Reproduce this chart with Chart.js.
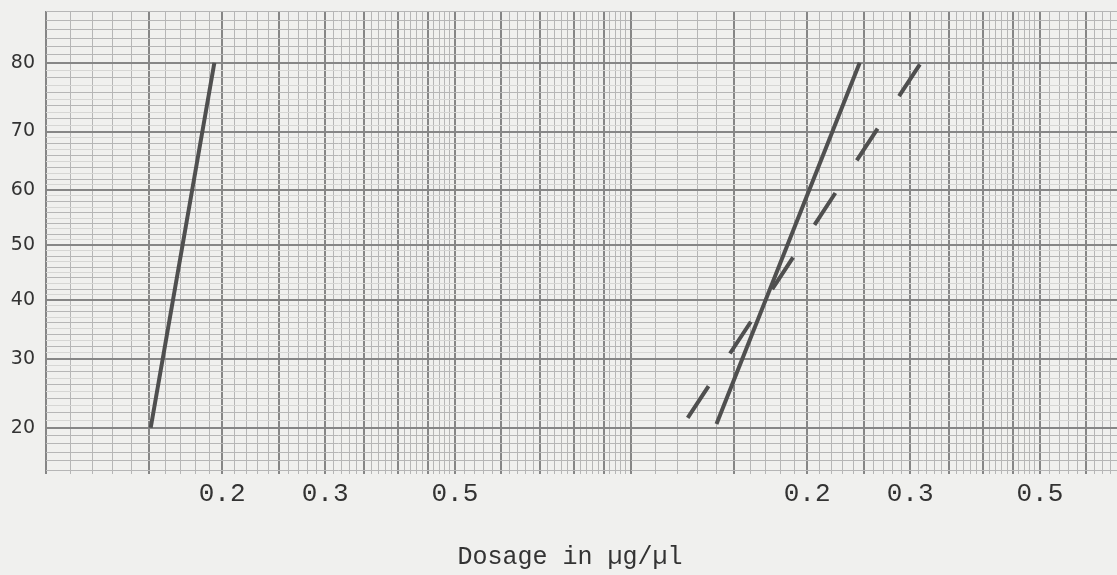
<!DOCTYPE html>
<html>
<head>
<meta charset="utf-8">
<script src="https://cdn.jsdelivr.net/npm/chart.js@4.4.1/dist/chart.umd.min.js"></script>
<style>
  body { margin: 0; background: #f0f0ee; }
  #wrap { position: relative; width: 1117px; height: 575px; overflow: hidden; background: #f0f0ee; }
  #leftChart { position: absolute; left: 0; top: 0; }
  #rightChart { position: absolute; left: 629px; top: 0; }
  #xTitle {
    position: absolute; left: 0; width: 1140px; top: 543px;
    text-align: center; font: 25px "Liberation Mono", monospace; color: #333;
  }
</style>
</head>
<body>
<div id="wrap">
  <canvas id="leftChart" width="640" height="575"></canvas>
  <canvas id="rightChart" width="602" height="575"></canvas>
  <div id="xTitle">Dosage in µg/µl</div>
</div>
<script>
// dose (µg/µl) vs. response (%)
const leftDose = [0.151, 0.194];
const leftPct = [20, 80];
const rightSolidDose = [0.140, 0.246];
const rightSolidPct = [20.5, 80];
const rightDashDose = [0.125, 0.313];
const rightDashPct = [21.3, 80];

const xTickLabels = [0.2, 0.3, 0.5];
const yTickLabels = [20, 30, 40, 50, 60, 70, 80];

// graph paper rulings (log dose x probability)
const xMajor = [0.1, 0.15, 0.2, 0.25, 0.3, 0.35, 0.4, 0.45, 0.5, 0.6, 0.7, 0.8, 0.9, 1.0];
const xMinor = [0.11, 0.12, 0.13, 0.14, 0.16, 0.17, 0.18, 0.19,
  0.21, 0.22, 0.23, 0.24, 0.26, 0.27, 0.28, 0.29, 0.31, 0.32, 0.33, 0.34,
  0.36, 0.37, 0.38, 0.39, 0.41, 0.42, 0.43, 0.44, 0.46, 0.47, 0.48, 0.49,
  0.52, 0.54, 0.56, 0.58, 0.62, 0.64, 0.66, 0.68, 0.72, 0.74, 0.76, 0.78,
  0.82, 0.84, 0.86, 0.88, 0.92, 0.94, 0.96, 0.98];
const yMajor = [20, 30, 40, 50, 60, 70, 80];
const yMinor = [15, 16, 17, 18, 19, 22, 24, 26, 28, 32, 34, 36, 38, 42, 44, 46, 48,
  52, 54, 56, 58, 62, 64, 66, 68, 72, 74, 76, 78, 81, 82, 83, 84, 85, 86];
const yFaint = [21, 23, 25, 27, 29, 31, 33, 35, 37, 39, 41, 43, 45, 47, 49,
  51, 53, 55, 57, 59, 61, 63, 65, 67, 69, 71, 73, 75, 77, 79];

const xRulings = xMajor.concat(xMinor).sort((a, b) => a - b);
const yRulings = yMajor.concat(yMinor, yFaint).sort((a, b) => a - b);

// inverse normal CDF (Acklam), central region is all we need here
function probit(p) {
  const a = [-39.69683028665376, 220.9460984245205, -275.9285104469687, 138.3577518672690, -30.66479806614716, 2.506628277459239];
  const b = [-54.47609879822406, 161.5858368580409, -155.6989798598866, 66.80131188771972, -13.28068155288572];
  const q = p - 0.5, r = q * q;
  return (((((a[0] * r + a[1]) * r + a[2]) * r + a[3]) * r + a[4]) * r + a[5]) * q /
    (((((b[0] * r + b[1]) * r + b[2]) * r + b[3]) * r + b[4]) * r + 1);
}

function normCdf(z) {
  const t = 1 / (1 + 0.3275911 * Math.abs(z) / Math.SQRT2);
  const y = 1 - (((((1.061405429 * t - 1.453152027) * t) + 1.421413741) * t - 0.284496736) * t + 0.254829592) * t * Math.exp(-z * z / 2);
  return z >= 0 ? (1 + y) / 2 : (1 - y) / 2;
}

class ProbitScale extends Chart.Scale {
  determineDataLimits() {
    this.min = this.options.min;
    this.max = this.options.max;
  }
  buildTicks() {
    return [];
  }
  configure() {
    super.configure();
    this._zMin = probit(this.min / 100);
    this._zMax = probit(this.max / 100);
  }
  getPixelForValue(v) {
    return this.getPixelForDecimal((probit(v / 100) - this._zMin) / (this._zMax - this._zMin));
  }
  getValueForPixel(px) {
    const z = this._zMin + this.getDecimalForPixel(px) * (this._zMax - this._zMin);
    return 100 * normCdf(z);
  }
}
ProbitScale.id = 'probit';
ProbitScale.defaults = {};
Chart.register(ProbitScale);

function xColor(ctx) { return xMajor.includes(ctx.tick.value) ? '#868686' : '#b6b6b6'; }
function xWidth(ctx) { return xMajor.includes(ctx.tick.value) ? 2 : 1; }
function yColor(ctx) {
  const v = ctx.tick.value;
  if (yMajor.includes(v)) return '#868686';
  if (yFaint.includes(v)) return '#d6d6d4';
  return '#b6b6b6';
}
function yWidth(ctx) { return yMajor.includes(ctx.tick.value) ? 2 : 1; }

function points(xs, ys) {
  return xs.map((x, i) => ({ x: x, y: ys[i] }));
}

function makePanel(id, datasets, showY, padding) {
  return new Chart(document.getElementById(id), {
    type: 'line',
    data: { datasets: datasets },
    options: {
      responsive: false,
      animation: false,
      events: [],
      layout: { padding: padding },
      plugins: { legend: { display: false }, tooltip: { enabled: false } },
      scales: {
        x: {
          type: 'logarithmic',
          min: 0.1,
          max: 1,
          afterBuildTicks: s => { s.ticks = xRulings.map(v => ({ value: v })); },
          afterFit: s => { s.height = 105; s.paddingLeft = 0; s.paddingRight = 0; },
          border: { display: false },
          grid: { color: xColor, lineWidth: xWidth, drawTicks: true, tickLength: 4 },
          ticks: {
            autoSkip: false,
            maxRotation: 0,
            padding: 5,
            color: '#333',
            font: { family: 'Liberation Mono', size: 26 },
            callback: v => xTickLabels.includes(v) ? v.toFixed(1) : ''
          }
        },
        y: {
          type: 'probit',
          min: 15,
          max: 86,
          afterBuildTicks: s => { s.ticks = yRulings.map(v => ({ value: v })); },
          afterFit: s => { s.width = showY ? 46 : 0; s.paddingTop = 0; s.paddingBottom = 0; },
          border: { display: false },
          grid: { color: yColor, lineWidth: yWidth, drawTicks: false },
          ticks: {
            display: showY,
            autoSkip: false,
            padding: 11,
            color: '#333',
            font: { family: 'DejaVu Sans', size: 19 },
            callback: v => yTickLabels.includes(v) ? String(v) : ''
          }
        }
      }
    }
  });
}

const lineStyle = { borderColor: '#4f4f4f', borderWidth: 4, pointRadius: 0, tension: 0, fill: false };

makePanel('leftChart', [
  Object.assign({ label: 'left', data: points(leftDose, leftPct) }, lineStyle)
], true, { left: 0, right: 9, top: 11, bottom: 0 });

makePanel('rightChart', [
  Object.assign({ label: 'solid', data: points(rightSolidDose, rightSolidPct) }, lineStyle),
  Object.assign({ label: 'dashed', data: points(rightDashDose, rightDashPct), borderDash: [38, 39] }, lineStyle)
], false, { left: 2, right: 15, top: 11, bottom: 0 });
</script>
</body>
</html>
